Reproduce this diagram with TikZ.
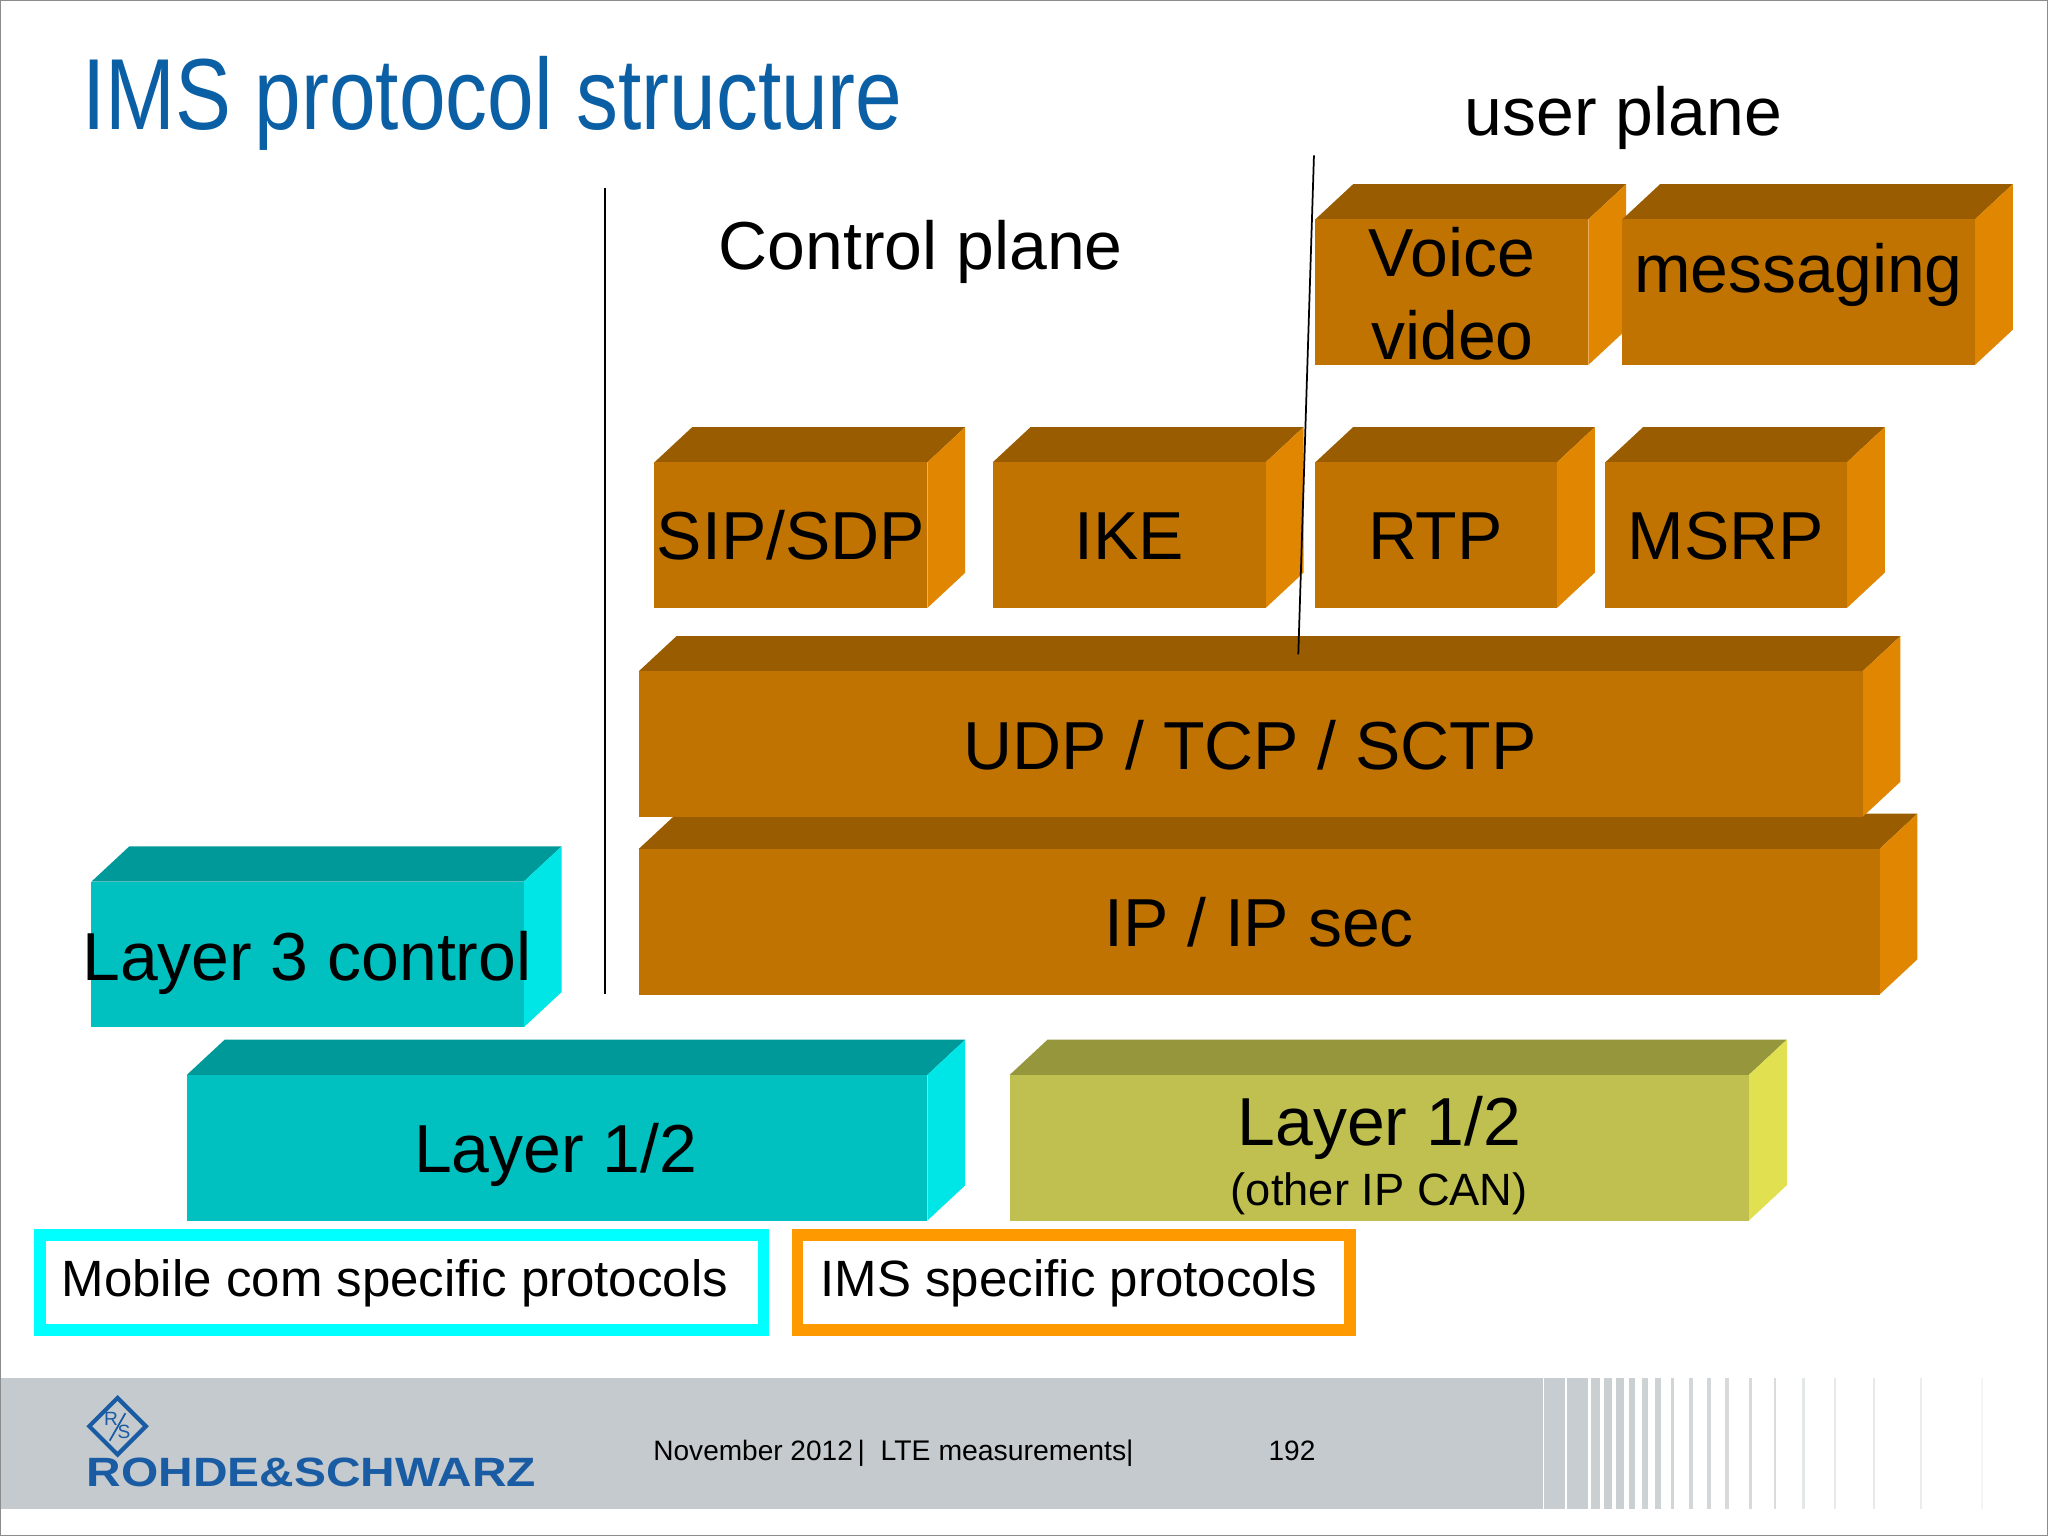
\documentclass[tikz,border=0pt]{standalone}
\usepackage{fontspec}
\setmainfont{Liberation Sans}
\usetikzlibrary{shapes.geometric}
\definecolor{TitleBlue}{HTML}{0A5FA5}
\definecolor{LogoBlue}{HTML}{1A5CA3}
\definecolor{FootGrey}{HTML}{C4CACD}
\definecolor{BrownFront}{HTML}{C07300}
\definecolor{BrownTop}{HTML}{995C00}
\definecolor{BrownSide}{HTML}{E08600}
\definecolor{CyanFront}{HTML}{00C0C0}
\definecolor{CyanTop}{HTML}{009999}
\definecolor{CyanSide}{HTML}{00E6E6}
\definecolor{OliveFront}{HTML}{C0C050}
\definecolor{OliveTop}{HTML}{96963C}
\definecolor{OliveSide}{HTML}{E0E050}
\definecolor{LegendCyan}{HTML}{00FFFF}
\definecolor{LegendOrange}{HTML}{FF9900}
% 3D block: colour set, left, top, right, bottom of the front face
\newcommand{\block}[5]{
    \fill[#1Top] (#2,#3) -- ({#2+29},{#3-27}) -- ({#4+29},{#3-27}) -- (#4,#3) -- cycle;
    \fill[#1Side] (#4,#3) -- ({#4+29},{#3-27}) -- ({#4+29},{#5-27}) -- (#4,#5) -- cycle;
    \fill[#1Front] (#2,#3) rectangle (#4,#5);
}
\begin{document}
\begin{tikzpicture}[
        x=0.75pt, y=-0.75pt,
        big/.style={inner sep=0pt, anchor=base, font=\fontsize{39}{39}\selectfont},
        mid/.style={inner sep=0pt, anchor=base, font=\fontsize{26}{26}\selectfont},
        legend/.style={inner sep=0pt, anchor=base west, font=\fontsize{29.3}{30}\selectfont},
        foot/.style={inner sep=0pt, anchor=base west, font=\fontsize{16.1}{16}\selectfont},
        legendbox/.style={line width=6.75pt},
        sepline/.style={black, line width=1pt}
    ]
    \useasboundingbox (0,0) rectangle (1568,1176);
    \draw[black!45, line width=0.8pt] (0,0) rectangle (1568,1176);

    % title
    \node[inner sep=0pt, anchor=base west, text=TitleBlue, font=\fontsize{58}{58}\selectfont,
        xscale=0.83, transform shape] (title) at (63,99.5) {IMS protocol structure};
    \node[big] (user) at (1243,104) {user plane};
    \node[big] (control) at (705,206) {Control plane};

    % blocks
    \block{Brown}{1007}{168}{1216}{279.5}
    \block{Brown}{1242}{168}{1512}{279.5}
    \block{Brown}{501}{354}{710}{465.5}
    \block{Brown}{760}{354}{969}{465.5}
    \block{Brown}{1007}{354}{1192}{465.5}
    \block{Brown}{1229}{354}{1414}{465.5}
    \block{Brown}{489}{650}{1439}{761.5}
    \block{Brown}{489}{514}{1426}{625.5}
    \block{Cyan}{70}{675}{401}{786.5}
    \block{Cyan}{143}{823}{710}{934.5}
    \block{Olive}{773}{823}{1339}{934.5}

    % separators
    \coordinate (sepa) at (463,144);
    \coordinate (sepb) at (463,761);
    \coordinate (sepc) at (1006,119);
    \coordinate (sepd) at (994,501);
    \draw[sepline] (sepa) -- (sepb);
    \draw[sepline] (sepc) -- (sepd);

    % block labels
    \node[big] (voice) at (1111.5,212) {Voice};
    \node[big] (video) at (1112,275) {video};
    \node[big] (msg) at (1377,224) {messaging};
    \node[big] (sip) at (605.5,428) {SIP/SDP};
    \node[big] (ike) at (864.5,428) {IKE};
    \node[big] (rtp) at (1099,428) {RTP};
    \node[big] (msrp) at (1321.5,428) {MSRP};
    \node[big] (udp) at (957,589) {UDP / TCP / SCTP};
    \node[big] (ip) at (964,725) {IP / IP sec};
    \node[big] (l3) at (235,751) {Layer 3 control};
    \node[big] (l12a) at (425.5,898) {Layer 1/2};
    \node[big] (l12b) at (1056,877) {Layer 1/2};
    \node[mid] (can) at (1056,923) {(other IP CAN)};

    % legend
    \draw[legendbox, draw=LegendCyan] (30.5,945.5) rectangle (584.5,1018.5);
    \draw[legendbox, draw=LegendOrange] (610.5,945.5) rectangle (1033.5,1018.5);
    \node[legend] (mob) at (47,992.5) {Mobile com specific protocols};
    \node[legend] (ims) at (628,992.5) {IMS specific protocols};

    % footer band
    \fill[FootGrey] (1,1055) rectangle (1181,1155);
    \foreach \a/\b/\o in {1182/1198.5/.95, 1200/1216/.95, 1218/1225/.9, 1228/1234/.9, 1237/1243/.9,
            1247.5/1252/.9, 1257/1262/.85, 1267/1272/.85, 1279/1282/.8, 1293/1296/.75, 1307/1310/.75,
            1321/1324/.7, 1339/1341/.7, 1358/1360/.65, 1380/1382/.45, 1404/1405.5/.4,
            1434/1435.5/.4, 1470/1471.5/.35, 1516.5/1518/.2}
        \fill[FootGrey, opacity=\o] (\a,1055) rectangle (\b,1155);
    \node[foot] (date) at (500,1118) {November 2012\,|};
    \node[foot, font=\fontsize{16.3}{16}\selectfont] (topic) at (674,1118) {LTE measurements|};
    \node[foot] (page) at (971,1118) {192};

    % logo
    \node[diamond, draw=LogoBlue, line width=2.4pt, minimum width=33.5pt, minimum height=33.5pt, inner sep=0pt] (rsmark) at (90,1092) {};
    \coordinate (rsa) at (96,1082);
    \coordinate (rsb) at (84,1103);
    \draw[LogoBlue, line width=1pt] (rsa) -- (rsb);
    \node[inner sep=0pt, text=LogoBlue, font=\fontsize{11}{11}\selectfont] (rsr) at (85,1086) {R};
    \node[inner sep=0pt, text=LogoBlue, font=\fontsize{11}{11}\selectfont] (rss) at (95,1096) {S};
    \node[inner sep=0pt, anchor=base west, text=LogoBlue, font=\bfseries\fontsize{23.5}{24}\selectfont,
        xscale=1.17, transform shape] (rsname) at (66,1138) {ROHDE\&SCHWARZ};
\end{tikzpicture}
\end{document}
